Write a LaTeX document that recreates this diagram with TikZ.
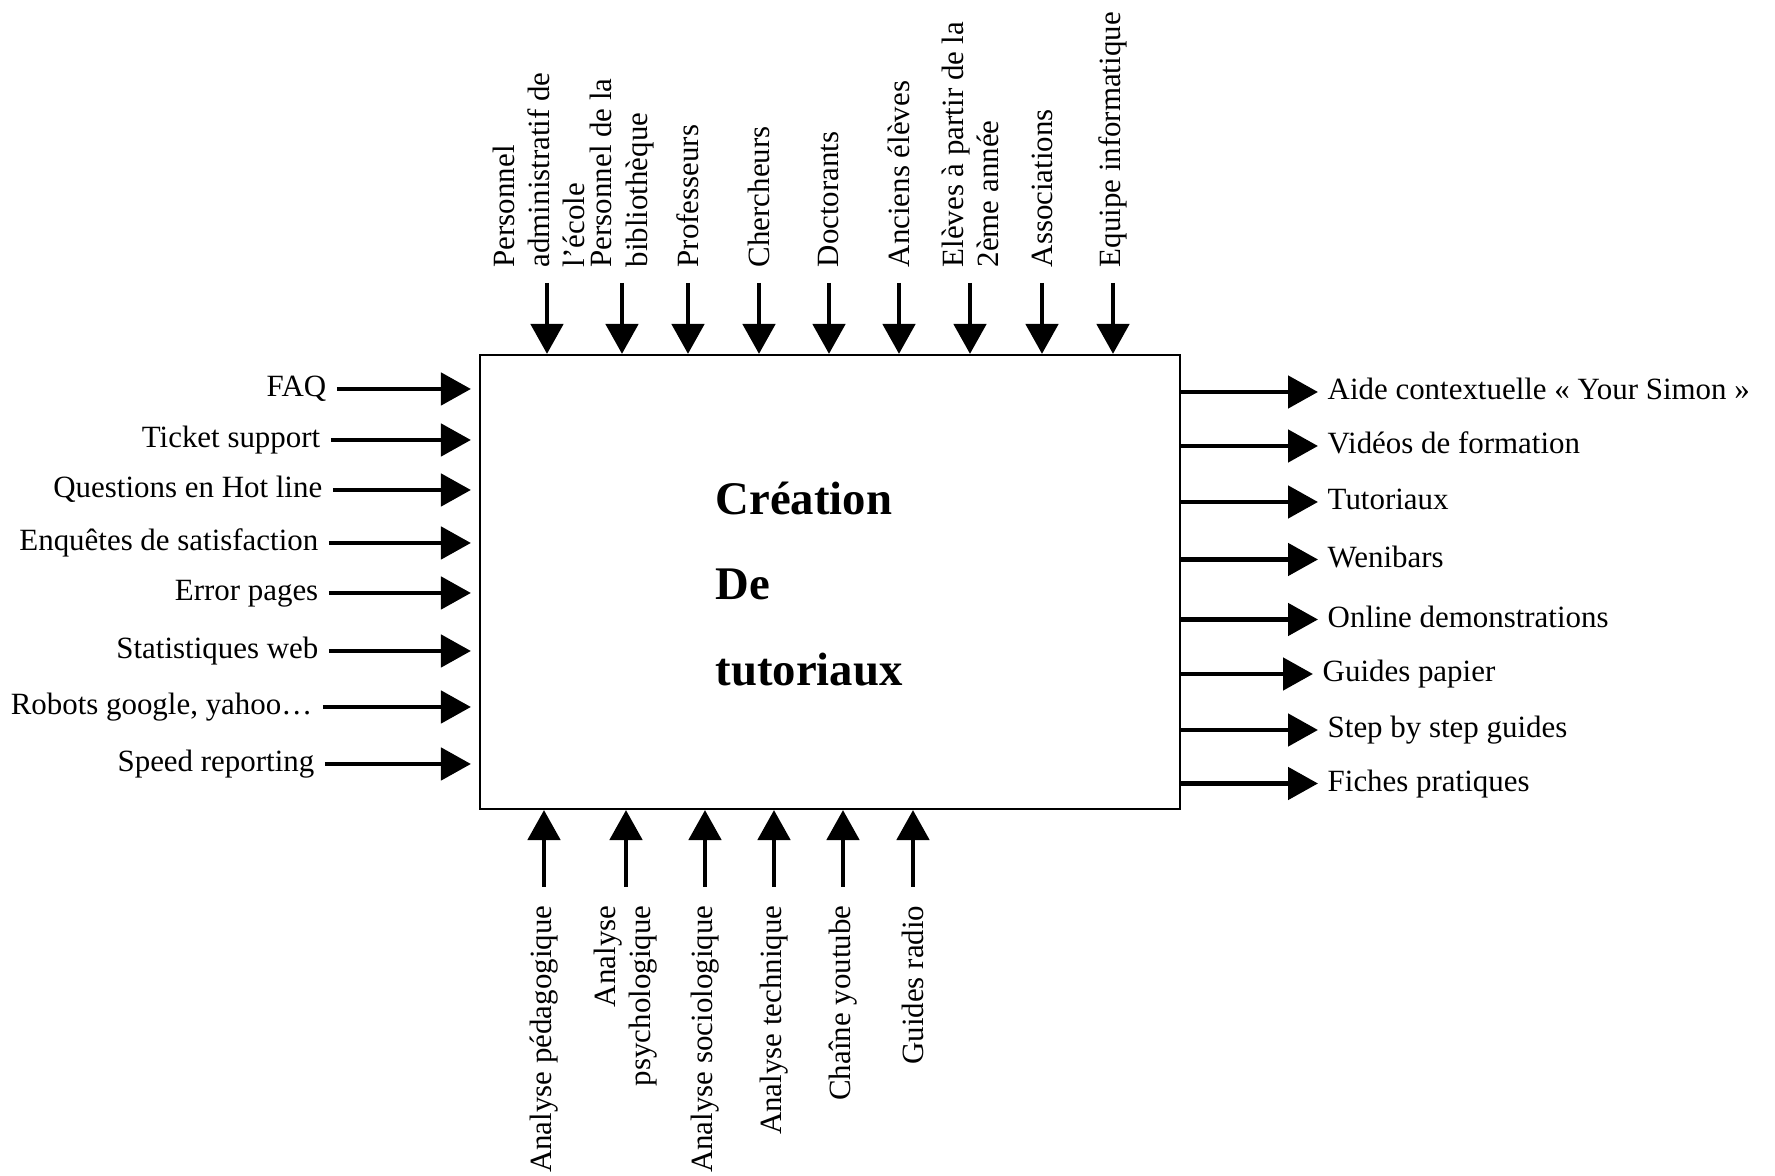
\documentclass[tikz,border=0pt]{standalone}
\usepackage{fontspec}
\setmainfont{Liberation Serif}
\usepackage{tikz}
\usetikzlibrary{arrows.meta,positioning}
\tikzstyle{block} = [rectangle, draw=black, line width=0.6pt, minimum width=7cm, minimum height=4.54cm]
\tikzstyle{boxtitle} = [anchor=west, align=left, inner sep=0pt, font=\fontsize{13.3pt}{24.4pt}\selectfont\bfseries]
\tikzstyle{inlabel} = [anchor=east, inner sep=0pt, text height=0.7em, text depth=0.25em]
\tikzstyle{outlabel} = [anchor=west, inner sep=0pt, text height=0.7em, text depth=0.25em]
\tikzstyle{toplabel} = [rotate=90, anchor=west, align=left, inner sep=0pt]
\tikzstyle{botlabel} = [rotate=90, anchor=east, align=right, inner sep=0pt]
\tikzstyle{arrow} = [line width=1.4pt, -{Triangle[length=0.30cm, width=0.32cm]}]
\tikzstyle{inarrow} = [arrow, shorten <=0.1cm, shorten >=0.08cm]
\tikzstyle{outarrow} = [arrow, shorten >=0.09cm]
\tikzstyle{toparrow} = [arrow, shorten <=0.15cm]
\tikzstyle{botarrow} = [arrow, shorten <=0.18cm]

\begin{document}
\begin{tikzpicture}[font=\fontsize{8.8pt}{10pt}\selectfont]
	\useasboundingbox (-8.30,-5.94) rectangle (9.45,5.82);
	\node[block] (box) at (0,0) {};
	\node[boxtitle] (title) at (-1.15,-0.02) {Création\\De\\tutoriaux};

	\node[inlabel] (faq) at (-5.03,1.93) {FAQ};
	\node[inlabel] (ticket) at (-5.09,1.42) {Ticket support};
	\node[inlabel] (hotline) at (-5.07,0.92) {Questions en Hot line};
	\node[inlabel] (enquetes) at (-5.11,0.39) {Enquêtes de satisfaction};
	\node[inlabel] (errpages) at (-5.11,-0.11) {Error pages};
	\node[inlabel] (stats) at (-5.11,-0.69) {Statistiques web};
	\node[inlabel] (robots) at (-5.17,-1.25) {Robots google, yahoo…};
	\node[inlabel] (speed) at (-5.15,-1.82) {Speed reporting};

	\node[outlabel] (aide) at (4.97,1.90) {Aide contextuelle « Your Simon »};
	\node[outlabel] (videos) at (4.97,1.36) {Vidéos de formation};
	\node[outlabel] (tuto) at (4.97,0.80) {Tutoriaux};
	\node[outlabel] (wenibars) at (4.97,0.225) {Wenibars};
	\node[outlabel] (demos) at (4.97,-0.375) {Online demonstrations};
	\node[outlabel] (papier) at (4.92,-0.92) {Guides papier};
	\node[outlabel] (stepguides) at (4.97,-1.48) {Step by step guides};
	\node[outlabel] (fiches) at (4.97,-2.015) {Fiches pratiques};

	\node[toplabel] (persadmin) at (-2.91,3.14) {Personnel\\administratif de\\l’école};
	\node[toplabel] (persbib) at (-2.08,3.14) {Personnel de la\\bibliothèque};
	\node[toplabel] (profs) at (-1.42,3.14) {Professeurs};
	\node[toplabel] (cherch) at (-0.71,3.14) {Chercheurs};
	\node[toplabel] (doct) at (-0.01,3.14) {Doctorants};
	\node[toplabel] (anciens) at (0.69,3.14) {Anciens élèves};
	\node[toplabel] (eleves) at (1.40,3.14) {Elèves à partir de la\\2ème année};
	\node[toplabel] (assoc) at (2.12,3.14) {Associations};
	\node[toplabel] (equipe) at (2.83,3.14) {Equipe informatique};

	\node[botlabel] (ped) at (-2.86,-3.23) {Analyse pédagogique};
	\node[botlabel] (psy) at (-2.04,-3.23) {Analyse\\psychologique};
	\node[botlabel] (socio) at (-1.25,-3.23) {Analyse sociologique};
	\node[botlabel] (tech) at (-0.56,-3.23) {Analyse technique};
	\node[botlabel] (youtube) at (0.13,-3.23) {Chaîne youtube};
	\node[botlabel] (radio) at (0.83,-3.23) {Guides radio};

	\draw[inarrow] (faq) -- (faq -| box.west);
	\draw[inarrow] (ticket) -- (ticket -| box.west);
	\draw[inarrow] (hotline) -- (hotline -| box.west);
	\draw[inarrow] (enquetes) -- (enquetes -| box.west);
	\draw[inarrow] (errpages) -- (errpages -| box.west);
	\draw[inarrow] (stats) -- (stats -| box.west);
	\draw[inarrow] (robots) -- (robots -| box.west);
	\draw[inarrow] (speed) -- (speed -| box.west);

	\draw[outarrow] (aide -| box.east) -- (aide);
	\draw[outarrow] (videos -| box.east) -- (videos);
	\draw[outarrow] (tuto -| box.east) -- (tuto);
	\draw[outarrow] (wenibars -| box.east) -- (wenibars);
	\draw[outarrow] (demos -| box.east) -- (demos);
	\draw[outarrow] (papier -| box.east) -- (papier);
	\draw[outarrow] (stepguides -| box.east) -- (stepguides);
	\draw[outarrow] (fiches -| box.east) -- (fiches);

	\draw[toparrow] ([xshift=0.08cm]persadmin.west) -- ([xshift=0.08cm]persadmin.west |- box.north);
	\draw[toparrow] (persbib.west) -- (persbib.west |- box.north);
	\draw[toparrow] (profs.west) -- (profs.west |- box.north);
	\draw[toparrow] (cherch.west) -- (cherch.west |- box.north);
	\draw[toparrow] (doct.west) -- (doct.west |- box.north);
	\draw[toparrow] (anciens.west) -- (anciens.west |- box.north);
	\draw[toparrow] (eleves.west) -- (eleves.west |- box.north);
	\draw[toparrow] (assoc.west) -- (assoc.west |- box.north);
	\draw[toparrow] (equipe.west) -- (equipe.west |- box.north);

	\draw[botarrow] (ped.east) -- (ped.east |- box.south);
	\draw[botarrow] (psy.east) -- (psy.east |- box.south);
	\draw[botarrow] (socio.east) -- (socio.east |- box.south);
	\draw[botarrow] (tech.east) -- (tech.east |- box.south);
	\draw[botarrow] (youtube.east) -- (youtube.east |- box.south);
	\draw[botarrow] (radio.east) -- (radio.east |- box.south);
\end{tikzpicture}
\end{document}
